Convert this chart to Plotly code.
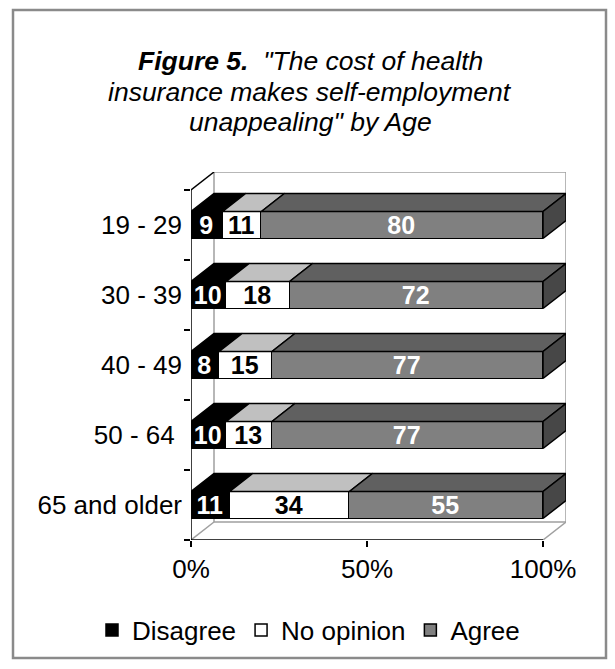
import plotly.graph_objects as go

# --- data -------------------------------------------------------------
ages = ["19 - 29", "30 - 39", "40 - 49", "50 - 64\u00a0", "65 and older"]
disagree = [9, 10, 8, 10, 11]
no_opinion = [11, 18, 15, 13, 34]
agree = [80, 72, 77, 77, 55]

series_names = ["Disagree", "No opinion", "Agree"]
x_ticks = [0, 50, 100]
x_tick_labels = ["0%", "50%", "100%"]
title_lines = [
    "<b>Figure 5.</b>\u00a0 \"The cost of health",
    "insurance makes self-employment",
    "unappealing\" by Age",
]

# --- geometry (pixels of the 615x669 canvas) --------------------------
W, H = 615, 669
PLOT_L, PLOT_R, PLOT_T, PLOT_B = 191, 566, 172, 540
FRONT_R = 543          # where 100% sits on the front plane
DEPTH_Y_PX = 18        # upward shift of the 3D back plane
BAR_PX = 27            # height of a bar's front face

n = len(ages)
band_px = (PLOT_B - PLOT_T - DEPTH_Y_PX) / n
dx = (PLOT_R - FRONT_R) * 100 / (FRONT_R - PLOT_L)
dy = DEPTH_Y_PX / band_px
bar_w = BAR_PX / band_px
y_lo, y_hi = -0.5, n - 0.5
ypos = [n - 1 - i for i in range(n)]


def px_x(p):
    return (p - PLOT_L) / (PLOT_R - PLOT_L)


def px_y(p):
    return (PLOT_B - p) / (PLOT_B - PLOT_T)


FONT = "Liberation Sans, Arial, sans-serif"
front_colors = ["#000000", "#ffffff", "#808080"]
top_colors = ["#000000", "#c0c0c0", "#606060"]
side_color = "#474747"
text_colors = ["white", "black", "white"]
wall_col = "#a0a0a0"

values = [disagree, no_opinion, agree]

fig = go.Figure()

# front faces of the stacked bars
for name, vals, col, tcol in zip(series_names, values, front_colors, text_colors):
    fig.add_trace(go.Bar(
        y=ypos, x=vals, name=name, orientation="h", width=bar_w,
        marker=dict(color=col, line=dict(color="black", width=1.5)),
        texttemplate="<b>%{x}</b>", textposition="inside",
        insidetextanchor="middle", textangle=0,
        textfont=dict(color=tcol, size=25, family=FONT),
        hoverinfo="skip",
    ))

# top faces (and the right-hand end face) computed from the stacked values
starts = [0] * n
for vals, col in zip(values, top_colors):
    xs, ys = [], []
    for i in range(n):
        l, r = starts[i], starts[i] + vals[i]
        yt = ypos[i] + bar_w / 2
        xs += [l, r, r + dx, l + dx, l, None]
        ys += [yt, yt, yt + dy, yt + dy, yt, None]
        starts[i] = r
    fig.add_trace(go.Scatter(
        x=xs, y=ys, mode="lines", fill="toself", fillcolor=col,
        line=dict(color="black", width=1.5), showlegend=False, hoverinfo="skip",
    ))

xs, ys = [], []
for i in range(n):
    e = starts[i]
    yt, yb = ypos[i] + bar_w / 2, ypos[i] - bar_w / 2
    xs += [e, e + dx, e + dx, e, e, None]
    ys += [yb, yb + dy, yt + dy, yt, yb, None]
fig.add_trace(go.Scatter(
    x=xs, y=ys, mode="lines", fill="toself", fillcolor=side_color,
    line=dict(color="black", width=1.5), showlegend=False, hoverinfo="skip",
))

# walls, floor and axis lines of the 3D frame
shapes = [
    dict(type="rect", xref="x", yref="y", x0=dx, x1=100 + dx, y0=y_lo + dy, y1=y_hi + dy,
         line=dict(color=wall_col, width=1.5), fillcolor="white", layer="below"),
    dict(type="line", xref="x", yref="y", x0=0, x1=dx, y0=y_lo, y1=y_lo + dy,
         line=dict(color=wall_col, width=1.5), layer="below"),
    dict(type="line", xref="x", yref="y", x0=100, x1=100 + dx, y0=y_lo, y1=y_lo + dy,
         line=dict(color=wall_col, width=1.5), layer="below"),
    dict(type="line", xref="x", yref="y", x0=0, x1=dx, y0=y_hi, y1=y_hi + dy,
         line=dict(color="black", width=1.5), layer="below"),
    dict(type="line", xref="x", yref="y", x0=0, x1=100, y0=y_lo, y1=y_lo,
         line=dict(color="black", width=1.5)),
    dict(type="line", xref="x", yref="y", x0=0, x1=0, y0=y_lo, y1=y_hi,
         line=dict(color="black", width=1.5)),
    # outer frame of the chart
    dict(type="rect", xref="paper", yref="paper",
         x0=px_x(13), x1=px_x(606), y0=px_y(658), y1=px_y(10),
         line=dict(color="#8a8a8a", width=2.5), fillcolor="rgba(0,0,0,0)"),
]

# title, one annotation per line so the line spacing can follow the original
title_y = [61, 92, 122]
annotations = [
    dict(text=f"<i>{t}</i>", xref="paper", yref="paper", x=px_x(310), y=px_y(yy),
         xanchor="center", yanchor="middle", showarrow=False,
         font=dict(family=FONT, size=26.5, color="black"))
    for t, yy in zip(title_lines, title_y)
]

fig.update_layout(
    width=W, height=H,
    margin=dict(l=PLOT_L, r=W - PLOT_R, t=PLOT_T, b=H - PLOT_B),
    paper_bgcolor="white", plot_bgcolor="white",
    barmode="stack", bargap=0,
    font=dict(family=FONT, size=26, color="black"),
    shapes=shapes,
    annotations=annotations,
    hovermode=False,
    uniformtext=dict(minsize=25, mode="show"),
    legend=dict(
        orientation="h", xref="paper", yref="paper",
        x=px_x(92), xanchor="left", y=px_y(630), yanchor="middle",
        font=dict(family=FONT, size=26, color="black"),
        bgcolor="rgba(0,0,0,0)", traceorder="normal",
    ),
)

fig.update_xaxes(
    range=[0, 100 + dx], tickvals=x_ticks, ticktext=x_tick_labels,
    ticks="outside", ticklen=6, tickwidth=1.5, tickcolor="black",
    showline=False, showgrid=False, zeroline=False, fixedrange=True,
    tickfont=dict(size=26),
)
fig.update_yaxes(
    range=[y_lo, y_hi + dy], tickvals=ypos, ticktext=ages,
    ticks="", showline=False, showgrid=False, zeroline=False, fixedrange=True,
    tickfont=dict(size=26), ticklabelstandoff=8,
    minor=dict(tickvals=[y_lo + k for k in range(n + 1)], ticks="outside",
               ticklen=6, tickwidth=1.5, tickcolor="black"),
)

fig.write_html("out.html", config={"displayModeBar": False},
               post_script="document.body.style.margin='0';")
